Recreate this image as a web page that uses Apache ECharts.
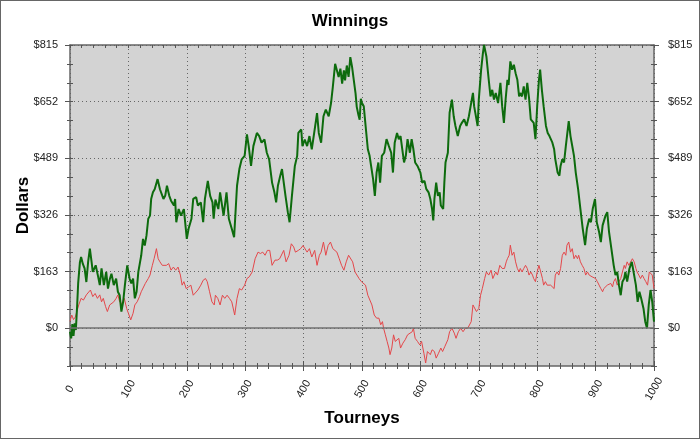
<!DOCTYPE html>
<html>
<head>
<meta charset="utf-8">
<script src="https://cdn.jsdelivr.net/npm/echarts@6/dist/echarts.min.js"></script>
<style>
html,body{margin:0;padding:0;background:#fff;}
#wrap{position:relative;width:700px;height:439px;}
#chart{position:absolute;left:0;top:0;width:700px;height:439px;}
#frame{position:absolute;left:0;top:0;width:700px;height:439px;box-sizing:border-box;border:1px solid #666;pointer-events:none;}
</style>
</head>
<body>
<div id="wrap"><div id="chart"></div><div id="frame"></div></div>
<script>
// ---- data (tourney, dollars) ----
const greenWinnings = [
[0,-10],[2,-29],[4,12],[6,-22],[8,14],[10,-5],[12,57],[14,130],[17,190],[19,205],[22,185],[25,172],[28,133],[31,190],[34,229],[37,190],[39,162],[44,181],[48,150],[51,124],[54,172],[58,124],[62,162],[65,114],[68,140],[71,157],[75,124],[79,143],[82,105],[85,95],[88,48],[91,76],[94,124],[98,181],[102,143],[105,129],[108,143],[111,86],[114,105],[117,162],[120,191],[122,210],[125,257],[128,238],[131,267],[134,315],[137,324],[139,372],[142,391],[145,400],[150,429],[154,400],[157,405],[160,372],[163,381],[166,410],[170,381],[173,367],[178,353],[180,372],[182,305],[186,343],[190,324],[195,343],[200,257],[203,286],[208,315],[211,372],[216,377],[219,353],[224,362],[228,305],[231,372],[236,424],[240,381],[244,362],[246,315],[249,370],[254,343],[257,391],[263,324],[268,391],[272,315],[277,286],[281,262],[286,410],[290,458],[294,486],[299,496],[303,558],[306,524],[310,467],[314,524],[320,562],[324,553],[328,534],[333,543],[337,505],[341,486],[346,419],[350,391],[353,362],[356,410],[360,439],[363,458],[366,419],[369,381],[373,334],[376,305],[380,381],[385,467],[389,496],[391,562],[396,572],[398,524],[402,543],[406,524],[410,553],[414,515],[419,572],[423,619],[426,562],[430,534],[434,610],[438,629],[443,610],[447,648],[450,694],[454,761],[457,766],[460,723],[463,747],[466,704],[469,742],[471,713],[474,756],[477,723],[480,780],[483,752],[486,713],[489,675],[491,637],[494,613],[496,600],[498,660],[500,648],[503,639],[506,585],[510,515],[513,496],[519,429],[522,381],[525,448],[528,477],[531,419],[534,496],[538,505],[542,544],[546,524],[550,505],[553,448],[556,534],[560,562],[563,544],[566,553],[569,515],[572,477],[575,496],[578,544],[582,505],[585,544],[588,515],[591,477],[595,467],[600,448],[603,419],[607,424],[610,401],[614,391],[617,372],[620,343],[622,310],[624,372],[627,419],[630,381],[633,391],[635,353],[639,343],[641,419],[643,477],[647,505],[650,620],[654,658],[657,610],[660,582],[664,553],[668,582],[671,591],[675,601],[679,582],[683,610],[686,639],[690,677],[692,639],[696,601],[698,582],[700,658],[704,744],[707,791],[709,815],[713,782],[717,715],[720,667],[723,686],[726,658],[729,677],[733,648],[737,706],[740,639],[743,591],[746,660],[749,715],[751,700],[754,768],[757,744],[760,758],[763,734],[766,715],[769,667],[771,677],[774,667],[777,696],[780,658],[783,706],[786,663],[789,601],[794,591],[797,544],[800,639],[803,715],[805,744],[808,686],[811,639],[815,582],[818,562],[821,553],[826,534],[829,515],[831,486],[835,448],[838,439],[840,467],[843,486],[846,477],[849,524],[851,553],[854,596],[857,553],[861,515],[863,496],[866,448],[870,401],[874,343],[878,286],[882,239],[885,286],[889,315],[892,305],[895,343],[899,372],[902,305],[906,277],[909,248],[912,296],[917,324],[920,334],[923,277],[927,229],[931,181],[934,153],[937,162],[940,124],[943,95],[946,134],[949,143],[951,162],[954,134],[958,172],[962,191],[965,162],[969,124],[972,76],[975,105],[978,86],[982,57],[985,19],[988,0],[991,67],[994,110],[997,76],[1000,19]
];
const redWinnings = [
[0,20],[3,38],[6,25],[9,32],[11,29],[15,67],[19,86],[23,81],[28,96],[31,91],[35,110],[39,91],[43,100],[47,86],[51,96],[54,76],[57,86],[61,62],[64,48],[68,67],[71,62],[75,76],[79,86],[82,96],[85,76],[89,71],[93,86],[97,57],[100,43],[104,24],[108,43],[111,67],[115,76],[119,91],[122,105],[125,100],[129,129],[134,143],[137,153],[141,181],[144,200],[148,229],[151,200],[154,191],[158,181],[161,186],[165,181],[169,186],[173,167],[177,176],[181,167],[185,176],[189,153],[192,124],[195,134],[199,114],[203,119],[207,124],[211,95],[214,100],[219,110],[224,124],[228,138],[232,143],[235,134],[239,105],[243,76],[247,67],[249,95],[253,86],[257,67],[261,95],[265,86],[269,95],[273,86],[277,76],[282,38],[286,86],[290,114],[294,110],[299,124],[303,143],[307,148],[312,162],[317,200],[322,219],[326,215],[330,219],[334,210],[338,224],[342,224],[346,181],[351,196],[355,196],[359,200],[362,196],[366,224],[370,191],[375,210],[379,243],[383,234],[386,219],[391,224],[395,229],[399,238],[402,243],[406,219],[410,229],[414,205],[419,224],[423,181],[427,210],[430,219],[434,248],[438,210],[442,238],[446,248],[450,229],[453,224],[457,219],[461,200],[465,181],[469,167],[473,191],[477,210],[480,215],[484,191],[488,162],[491,167],[495,143],[499,134],[502,129],[506,124],[510,95],[513,90],[517,67],[521,38],[525,29],[529,29],[532,10],[535,19],[537,0],[540,-19],[543,-38],[546,-57],[548,-76],[551,-57],[554,-19],[557,-38],[560,-43],[563,-29],[566,-57],[570,-43],[574,-33],[578,-19],[581,-24],[586,-10],[588,0],[591,-29],[595,-38],[599,-48],[602,-38],[606,-72],[609,-100],[612,-67],[617,-76],[620,-62],[624,-67],[627,-86],[631,-72],[635,-57],[638,-67],[642,-52],[647,-33],[650,-10],[654,0],[658,-14],[661,-29],[665,-10],[669,0],[673,-10],[677,0],[681,0],[684,0],[687,19],[690,67],[693,67],[696,48],[700,57],[703,95],[706,114],[710,143],[713,162],[717,153],[721,167],[724,143],[729,162],[732,153],[736,181],[740,172],[744,172],[747,191],[749,200],[752,210],[754,239],[757,210],[760,219],[763,191],[766,172],[769,162],[771,172],[774,162],[777,172],[780,181],[783,172],[786,153],[789,162],[792,153],[794,143],[797,134],[800,162],[803,181],[806,162],[809,143],[811,124],[814,134],[817,124],[820,129],[823,124],[826,119],[829,114],[831,153],[834,162],[837,153],[840,172],[843,210],[846,219],[849,210],[851,239],[854,248],[857,219],[860,229],[863,200],[866,210],[869,200],[871,210],[874,191],[877,181],[880,172],[883,153],[886,162],[889,153],[891,157],[894,148],[897,143],[900,143],[903,134],[906,124],[909,114],[912,105],[914,114],[917,114],[920,124],[923,119],[926,129],[929,119],[931,134],[934,143],[937,124],[940,134],[943,143],[946,162],[949,181],[951,172],[954,191],[957,181],[960,191],[963,200],[966,191],[969,172],[971,162],[974,153],[977,143],[980,153],[983,143],[986,134],[989,124],[992,162],[994,162],[997,153],[1000,114]
];
const yMajorTicks = [0, 163, 326, 489, 652, 815];
const xMajorTicks = [0, 100, 200, 300, 400, 500, 600, 700, 800, 900, 1000];
const titleText = 'Winnings';
const xTitle = 'Tourneys';
const yTitle = 'Dollars';

// ---- chart ----
const FONT = '"Liberation Sans", Arial, sans-serif';
const yStep = 163 / 3;
const yMin = -2 * yStep;
const yMax = 815;
const isMajorY = v => Math.abs(v / 163 - Math.round(v / 163)) < 1e-6;
const yFmt = v => isMajorY(v) ? '$' + Math.round(v) : '';
const tickColor = '#555';

function xAx(extra) {
  return Object.assign({
    type: 'value', min: 0, max: 1000, interval: 20, position: 'bottom',
    axisLine: { show: false, onZero: false },
    axisLabel: { show: false }, splitLine: { show: false },
    axisTick: { show: false }
  }, extra);
}
function yAx(extra) {
  return Object.assign({
    type: 'value', min: yMin, max: yMax, interval: yStep, position: 'left',
    axisLine: { show: false, onZero: false },
    axisLabel: { show: false }, splitLine: { show: false },
    axisTick: { show: false }
  }, extra);
}

const chart = echarts.init(document.getElementById('chart'), null, { renderer: 'canvas' });
chart.setOption({
  animation: false,
  backgroundColor: '#fff',
  title: {
    text: titleText, left: 'center', top: 8,
    textStyle: { fontFamily: FONT, fontSize: 17, fontWeight: 'bold', color: '#000' }
  },
  grid: {
    left: 70, top: 45, width: 584, height: 321,
    show: true, backgroundColor: '#d3d3d3', borderWidth: 0
  },
  xAxis: [
    xAx({
      axisLine: { show: true, onZero: false, lineStyle: { color: '#666', width: 1.5 } },
      axisTick: { show: true, length: 3, lineStyle: { color: tickColor } },
      axisLabel: {
        show: true, rotate: 60, align: 'center', verticalAlign: 'middle', margin: 23,
        fontFamily: FONT, fontSize: 11, color: '#222',
        formatter: v => (v % 100 === 0 ? String(v) : '')
      },
      splitLine: { show: true, lineStyle: { type: [1, 3], width: 1,
        color: ['#666', 'transparent', 'transparent', 'transparent', 'transparent'] } },
      name: xTitle, nameLocation: 'middle', nameGap: 40,
      nameTextStyle: { fontFamily: FONT, fontSize: 17, fontWeight: 'bold', color: '#000', verticalAlign: 'top' }
    }),
    xAx({ axisTick: { show: true, inside: true, length: 3, lineStyle: { color: tickColor } } }),
    xAx({ axisTick: { show: true, length: 5, customValues: xMajorTicks, lineStyle: { color: tickColor } } }),
    xAx({ axisTick: { show: true, inside: true, length: 5, customValues: xMajorTicks, lineStyle: { color: tickColor } } }),
    xAx({ position: 'top',
      axisLine: { show: true, onZero: false, lineStyle: { color: '#666', width: 1.5 } },
      axisTick: { show: true, inside: true, length: 3, lineStyle: { color: tickColor } } })
  ],
  yAxis: [
    yAx({
      axisLine: { show: true, onZero: false, lineStyle: { color: '#666', width: 1.5 } },
      axisTick: { show: true, length: 3, lineStyle: { color: tickColor } },
      axisLabel: { show: true, margin: 12, fontFamily: FONT, fontSize: 11, color: '#222', formatter: yFmt },
      splitLine: { show: true, lineStyle: { type: [1, 3], width: 1,
        color: ['transparent', 'transparent', '#666'] } },
      name: yTitle, nameLocation: 'middle', nameGap: 38, nameRotate: 90, nameMoveOverlap: false,
      nameTextStyle: { fontFamily: FONT, fontSize: 17, fontWeight: 'bold', color: '#000' }
    }),
    yAx({ axisTick: { show: true, inside: true, length: 3, lineStyle: { color: tickColor } } }),
    yAx({ axisTick: { show: true, length: 5, customValues: yMajorTicks, lineStyle: { color: tickColor } } }),
    yAx({ position: 'right',
      axisLine: { show: true, onZero: false, lineStyle: { color: '#666', width: 1.5 } },
      axisTick: { show: true, length: 3, lineStyle: { color: tickColor } },
      axisLabel: { show: true, margin: 14, fontFamily: FONT, fontSize: 11, color: '#222', formatter: yFmt } }),
    yAx({ position: 'right', axisTick: { show: true, inside: true, length: 3, lineStyle: { color: tickColor } } }),
    yAx({ position: 'right', axisTick: { show: true, length: 5, customValues: yMajorTicks, lineStyle: { color: tickColor } } })
  ],
  series: [
    {
      name: 'red', type: 'line', xAxisIndex: 0, yAxisIndex: 0,
      data: redWinnings, showSymbol: false, symbol: 'none',
      lineStyle: { color: '#e4474a', width: 1 }, z: 3,
      markLine: {
        silent: true, symbol: 'none', label: { show: false },
        lineStyle: { color: '#707070', width: 1.5, type: 'solid' },
        data: [{ yAxis: 0 }]
      }
    },
    {
      name: 'green', type: 'line', xAxisIndex: 0, yAxisIndex: 0,
      data: greenWinnings, showSymbol: false, symbol: 'none',
      lineStyle: { color: '#0d6b0d', width: 2 }, z: 4
    }
  ]
});
</script>
</body>
</html>
